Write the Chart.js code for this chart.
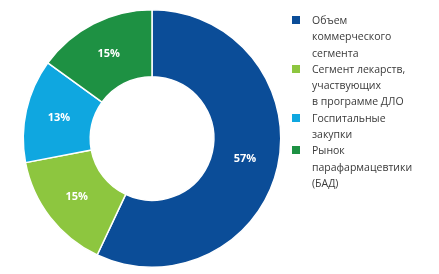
<!DOCTYPE html>
<html>
<head>
<meta charset="utf-8">
<script src="https://cdn.jsdelivr.net/npm/chart.js@4/dist/chart.umd.min.js"></script>
<style>
  html, body { margin: 0; padding: 0; background: #fff; }
  #wrap { position: relative; width: 439px; height: 274px; }
  #legend {
    position: absolute; left: 292px; top: 12px; width: 147px;
    font-family: "Open Sans", "Noto Sans", sans-serif; font-size: 10.5px;
    line-height: 16.3px; color: #3a3a3a;
  }
  .item { position: relative; padding-left: 20px; }
  .box { position: absolute; left: 0; top: 4px; width: 8px; height: 8px; }
</style>
</head>
<body>
<div id="wrap">
  <canvas id="donut" width="439" height="274"></canvas>
  <div id="legend"></div>
</div>
<script>
// Market structure, %
const segments = [
  ['Объем', 'коммерческого', 'сегмента'],
  ['Сегмент лекарств,', 'участвующих', 'в программе ДЛО'],
  ['Госпитальные', 'закупки'],
  ['Рынок', 'парафармацевтики', '(БАД)']
];
const shares = [57, 15, 13, 15];
const colors = ['#0b4d98', '#8dc63f', '#0fa7e0', '#1e9143'];

// legend built from the same arrays
const legend = document.getElementById('legend');
segments.forEach((lines, i) => {
  const div = document.createElement('div');
  div.className = 'item';
  div.innerHTML = '<span class="box" style="background:' + colors[i] + '"></span>' + lines.join('<br>');
  legend.appendChild(div);
});

// white percentage labels in the middle of each slice
const sliceLabels = {
  id: 'sliceLabels',
  afterDatasetsDraw(chart) {
    const ctx = chart.ctx;
    const meta = chart.getDatasetMeta(0);
    ctx.save();
    ctx.fillStyle = '#fff';
    ctx.font = 'bold 11px "Open Sans", sans-serif';
    ctx.textAlign = 'center';
    ctx.textBaseline = 'middle';
    meta.data.forEach((arc, i) => {
      const p = arc.tooltipPosition();
      ctx.fillText(shares[i] + '%', p.x, p.y);
    });
    ctx.restore();
  }
};

new Chart(document.getElementById('donut'), {
  type: 'doughnut',
  data: {
    labels: segments.map(s => s.join(' ')),
    datasets: [{
      data: shares,
      backgroundColor: colors,
      borderColor: '#fff',
      borderWidth: 1.5
    }]
  },
  options: {
    responsive: false,
    animation: false,
    cutout: '48%',
    layout: { padding: { left: 22, right: 157, top: 9, bottom: 6 } },
    plugins: {
      legend: { display: false },
      tooltip: { enabled: false }
    }
  },
  plugins: [sliceLabels]
});
</script>
</body>
</html>
